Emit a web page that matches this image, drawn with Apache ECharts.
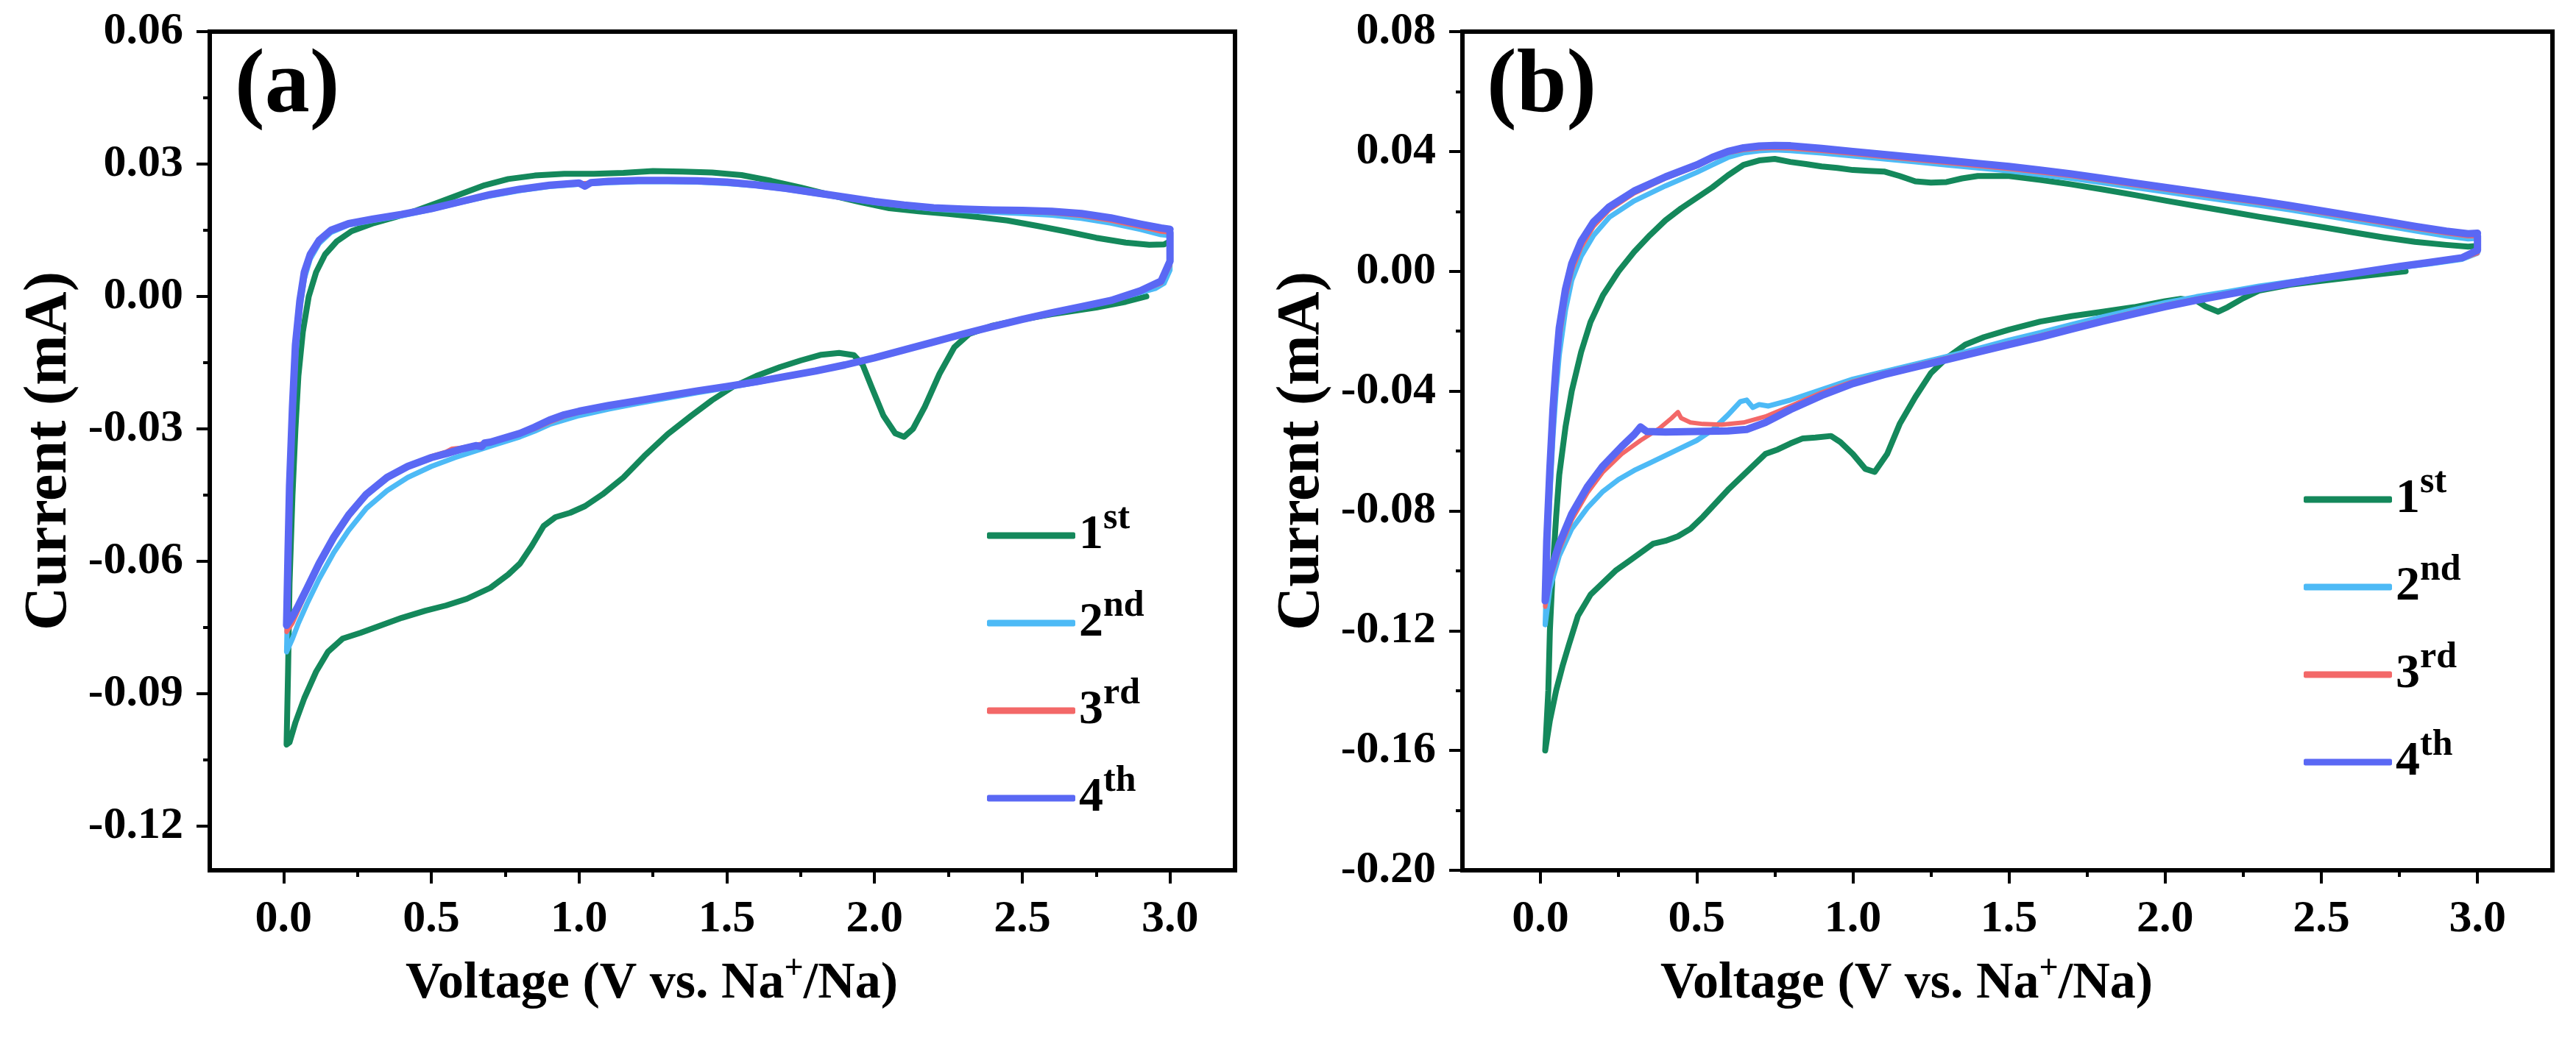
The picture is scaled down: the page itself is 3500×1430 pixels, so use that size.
<!DOCTYPE html>
<html>
<head>
<meta charset="utf-8">
<title>CV curves</title>
<script src="https://cdn.jsdelivr.net/npm/echarts@6.0.0/dist/echarts.min.js"></script>
<style>
  html, body { margin: 0; padding: 0; background: #fff; }
  #chart { width: 3500px; height: 1430px; }
</style>
</head>
<body>
<div id="chart"></div>
<script>
// ---- data: [voltage (V), current (mA)] ----
const cycleNames = ["1st", "2nd", "3rd", "4th"];
const cycleColors = ["#14885b", "#4dbaf6", "#f36868", "#5a68f4"];
const cycleWidths = [8, 7, 6, 10];

const xTicks = [0, 0.5, 1.0, 1.5, 2.0, 2.5, 3.0];
const xMinorTicks = [0.25, 0.75, 1.25, 1.75, 2.25, 2.75];
const aYTicks = [0.06, 0.03, 0, -0.03, -0.06, -0.09, -0.12];
const aYMinorTicks = [0.045, 0.015, -0.015, -0.045, -0.075, -0.105];
const bYTicks = [0.08, 0.04, 0, -0.04, -0.08, -0.12, -0.16, -0.2];
const bYMinorTicks = [0.06, 0.02, -0.02, -0.06, -0.1, -0.14, -0.18];

const aCycle1 = [
  [2.92, 0.000], [2.85, -0.0012], [2.75, -0.0025], [2.6, -0.0040], [2.5, -0.0052], [2.4, -0.0066],
  [2.32, -0.0085], [2.27, -0.0115], [2.22, -0.0175], [2.17, -0.0250], [2.13, -0.0300], [2.10, -0.0318],
  [2.07, -0.0310], [2.03, -0.0270], [1.99, -0.0205], [1.96, -0.0155], [1.93, -0.0133], [1.88, -0.0128],
  [1.82, -0.0132], [1.75, -0.0145], [1.68, -0.0160], [1.6, -0.0180], [1.52, -0.0205], [1.45, -0.0235],
  [1.38, -0.0270], [1.3, -0.0312], [1.22, -0.0362], [1.15, -0.0410], [1.08, -0.0448], [1.02, -0.0475],
  [0.97, -0.0490], [0.92, -0.0500], [0.88, -0.0520], [0.84, -0.0565], [0.80, -0.0605], [0.76, -0.0630],
  [0.70, -0.0660], [0.62, -0.0685], [0.55, -0.0700], [0.48, -0.0712], [0.40, -0.0728], [0.33, -0.0745],
  [0.26, -0.0762], [0.2, -0.0775], [0.15, -0.0805], [0.11, -0.0850], [0.07, -0.0910], [0.04, -0.0965],
  [0.02, -0.1010], [0.01, -0.1015],
  [0.015, -0.085], [0.02, -0.065], [0.03, -0.045], [0.04, -0.030], [0.05, -0.018], [0.065, -0.008],
  [0.085, 0.000], [0.11, 0.0055], [0.14, 0.0095], [0.18, 0.0125], [0.23, 0.0148], [0.3, 0.0165],
  [0.38, 0.0180], [0.45, 0.0195], [0.52, 0.0212], [0.6, 0.0232], [0.68, 0.0252], [0.76, 0.0266],
  [0.85, 0.0274], [0.95, 0.0278], [1.05, 0.0278], [1.15, 0.0280], [1.25, 0.0284], [1.35, 0.0283],
  [1.45, 0.0281], [1.55, 0.0275], [1.65, 0.0262], [1.75, 0.0247], [1.85, 0.0230], [1.95, 0.0214],
  [2.05, 0.0200], [2.15, 0.0193], [2.25, 0.0187], [2.35, 0.0180], [2.45, 0.0172], [2.55, 0.0160],
  [2.65, 0.0147], [2.75, 0.0133], [2.85, 0.0122], [2.93, 0.0117], [2.98, 0.0118], [3.0, 0.0125]
];
const aCycle2 = [
  [3.0, 0.0125], [3.0, 0.006], [2.98, 0.003], [2.95, 0.0018], [2.88, 0.0005], [2.8, -0.0010],
  [2.7, -0.0025], [2.6, -0.0038], [2.5, -0.0052], [2.4, -0.0068], [2.3, -0.0085], [2.2, -0.0103],
  [2.1, -0.0120], [2.0, -0.0138], [1.9, -0.0155], [1.8, -0.0170], [1.7, -0.0182], [1.6, -0.0195],
  [1.5, -0.0207], [1.4, -0.0218], [1.3, -0.0230], [1.2, -0.0242], [1.1, -0.0255], [1.0, -0.0270],
  [0.95, -0.0280], [0.9, -0.0290], [0.85, -0.0305], [0.8, -0.0318], [0.72, -0.0335], [0.65, -0.0350],
  [0.58, -0.0365], [0.5, -0.0385], [0.42, -0.0410], [0.35, -0.0440], [0.28, -0.0480], [0.22, -0.0530],
  [0.17, -0.0580], [0.12, -0.0640], [0.08, -0.0695], [0.05, -0.0740], [0.03, -0.0775], [0.01, -0.0805],
  [0.015, -0.065], [0.02, -0.048], [0.03, -0.028], [0.04, -0.014], [0.055, -0.003], [0.07, 0.004],
  [0.09, 0.0085], [0.12, 0.0120], [0.16, 0.0145], [0.22, 0.0162], [0.3, 0.0172], [0.4, 0.0183],
  [0.5, 0.0197], [0.6, 0.0213], [0.7, 0.0228], [0.8, 0.0240], [0.9, 0.0249], [1.0, 0.0254],
  [1.1, 0.0258], [1.2, 0.0260], [1.3, 0.0260], [1.4, 0.0259], [1.5, 0.0256], [1.6, 0.0251],
  [1.7, 0.0243], [1.8, 0.0233], [1.9, 0.0223], [2.0, 0.0213], [2.1, 0.0205], [2.2, 0.0198],
  [2.3, 0.0194], [2.4, 0.0191], [2.5, 0.0188], [2.6, 0.0184], [2.7, 0.0177], [2.8, 0.0166],
  [2.9, 0.0152], [2.97, 0.0140], [3.0, 0.0138]
];
const aCycle3 = [
  [3.0, 0.0138], [3.0, 0.007], [2.97, 0.003], [2.9, 0.0012], [2.8, -0.0010], [2.7, -0.0024],
  [2.6, -0.0038], [2.5, -0.0053], [2.4, -0.0069], [2.3, -0.0086], [2.2, -0.0104], [2.1, -0.0122],
  [2.0, -0.0140], [1.9, -0.0156], [1.8, -0.0170], [1.7, -0.0182], [1.6, -0.0194], [1.5, -0.0205],
  [1.4, -0.0216], [1.3, -0.0227], [1.2, -0.0238], [1.1, -0.0250], [1.0, -0.0263], [0.95, -0.0272],
  [0.9, -0.0285], [0.85, -0.0300], [0.8, -0.0312], [0.75, -0.0322], [0.7, -0.0330], [0.65, -0.0336],
  [0.6, -0.0343], [0.57, -0.0345], [0.55, -0.0352], [0.5, -0.0362], [0.42, -0.0385], [0.35, -0.0412],
  [0.28, -0.0450], [0.22, -0.0500], [0.17, -0.0550], [0.12, -0.0610], [0.08, -0.0665], [0.05, -0.0710],
  [0.03, -0.0740], [0.01, -0.0760],
  [0.015, -0.060], [0.02, -0.045], [0.03, -0.027], [0.04, -0.013], [0.055, -0.002], [0.07, 0.005],
  [0.09, 0.009], [0.12, 0.0123], [0.16, 0.0148], [0.22, 0.0164], [0.3, 0.0174], [0.4, 0.0185],
  [0.5, 0.0198], [0.6, 0.0214], [0.7, 0.0230], [0.8, 0.0242], [0.9, 0.0251], [1.0, 0.0256],
  [1.1, 0.0260], [1.2, 0.0262], [1.3, 0.0262], [1.4, 0.0261], [1.5, 0.0258], [1.6, 0.0252],
  [1.7, 0.0244], [1.8, 0.0234], [1.9, 0.0224], [2.0, 0.0214], [2.1, 0.0206], [2.2, 0.0200],
  [2.3, 0.0196], [2.4, 0.0194], [2.5, 0.0192], [2.6, 0.0189], [2.7, 0.0183], [2.8, 0.0172],
  [2.9, 0.0158], [2.97, 0.0147], [3.0, 0.0145]
];
const aCycle4 = [
  [3.0, 0.0145], [3.0, 0.008], [2.97, 0.0035], [2.9, 0.0013], [2.8, -0.0009], [2.7, -0.0023],
  [2.6, -0.0037], [2.5, -0.0052], [2.4, -0.0068], [2.3, -0.0085], [2.2, -0.0103], [2.1, -0.0121],
  [2.0, -0.0139], [1.9, -0.0155], [1.8, -0.0169], [1.7, -0.0181], [1.6, -0.0193], [1.5, -0.0204],
  [1.4, -0.0214], [1.3, -0.0225], [1.2, -0.0236], [1.1, -0.0247], [1.0, -0.0260], [0.95, -0.0268],
  [0.9, -0.0280], [0.85, -0.0296], [0.8, -0.0310], [0.75, -0.0320], [0.7, -0.0330], [0.68, -0.0332],
  [0.67, -0.0340], [0.65, -0.0338], [0.6, -0.0346], [0.55, -0.0356], [0.5, -0.0365], [0.42, -0.0385],
  [0.35, -0.0410], [0.28, -0.0448], [0.22, -0.0495], [0.17, -0.0545], [0.12, -0.0605], [0.08, -0.0660],
  [0.05, -0.0700], [0.03, -0.0725], [0.01, -0.0745],
  [0.015, -0.058], [0.02, -0.043], [0.03, -0.025], [0.04, -0.011], [0.055, -0.001], [0.07, 0.0055],
  [0.09, 0.0095], [0.12, 0.0127], [0.16, 0.0150], [0.22, 0.0165], [0.3, 0.0175], [0.4, 0.0186],
  [0.5, 0.0199], [0.6, 0.0215], [0.7, 0.0231], [0.8, 0.0243], [0.9, 0.0252], [1.0, 0.0257],
  [1.02, 0.0250], [1.04, 0.0258], [1.1, 0.0261], [1.2, 0.0263], [1.3, 0.0263], [1.4, 0.0262],
  [1.5, 0.0259], [1.6, 0.0253], [1.7, 0.0245], [1.8, 0.0235], [1.9, 0.0225], [2.0, 0.0215],
  [2.1, 0.0207], [2.2, 0.0201], [2.3, 0.0198], [2.4, 0.0196], [2.5, 0.0195], [2.6, 0.0193],
  [2.7, 0.0188], [2.8, 0.0178], [2.9, 0.0164], [2.97, 0.0155], [3.0, 0.0152]
];

const bCycle1 = [
  [2.77, 0.000], [2.7, -0.0008], [2.6, -0.0020], [2.5, -0.0032], [2.4, -0.0045], [2.3, -0.0065],
  [2.25, -0.0090], [2.2, -0.0120], [2.17, -0.0135], [2.13, -0.0118], [2.1, -0.0098], [2.05, -0.0092],
  [2.0, -0.0100], [1.9, -0.0120], [1.8, -0.0135], [1.7, -0.0150], [1.6, -0.0168], [1.5, -0.0195],
  [1.42, -0.0220], [1.36, -0.0245], [1.3, -0.0290], [1.25, -0.0340], [1.2, -0.0420], [1.15, -0.0510],
  [1.11, -0.0610], [1.07, -0.0670], [1.04, -0.0660], [1.0, -0.0610], [0.96, -0.0570], [0.93, -0.0550],
  [0.88, -0.0555], [0.84, -0.0558], [0.8, -0.0575], [0.76, -0.0595], [0.72, -0.0610], [0.68, -0.0650],
  [0.64, -0.0690], [0.6, -0.0730], [0.56, -0.0775], [0.52, -0.0820], [0.48, -0.0860], [0.44, -0.0885],
  [0.4, -0.0900], [0.36, -0.0910], [0.32, -0.0940], [0.28, -0.0970], [0.24, -0.1000], [0.2, -0.1040],
  [0.16, -0.1080], [0.12, -0.1150], [0.09, -0.1250], [0.07, -0.1320], [0.05, -0.1400], [0.03, -0.1500],
  [0.015, -0.1600],
  [0.025, -0.140], [0.03, -0.120], [0.04, -0.098], [0.05, -0.082], [0.06, -0.068], [0.08, -0.052],
  [0.1, -0.040], [0.13, -0.027], [0.16, -0.017], [0.2, -0.008], [0.25, 0.000], [0.3, 0.0065],
  [0.35, 0.0120], [0.4, 0.0170], [0.45, 0.0210], [0.5, 0.0245], [0.55, 0.0280], [0.6, 0.0320],
  [0.65, 0.0355], [0.7, 0.0370], [0.75, 0.0375], [0.8, 0.0365], [0.85, 0.0358], [0.9, 0.0350],
  [0.95, 0.0345], [1.0, 0.0338], [1.05, 0.0335], [1.1, 0.0333], [1.15, 0.0318], [1.2, 0.0300],
  [1.25, 0.0296], [1.3, 0.0298], [1.35, 0.0310], [1.4, 0.0318], [1.5, 0.0318], [1.6, 0.0305],
  [1.7, 0.0290], [1.8, 0.0273], [1.9, 0.0255], [2.0, 0.0236], [2.1, 0.0218], [2.2, 0.0200],
  [2.3, 0.0182], [2.4, 0.0165], [2.5, 0.0148], [2.6, 0.0130], [2.7, 0.0113], [2.8, 0.0098],
  [2.9, 0.0088], [2.97, 0.0082], [3.0, 0.0085]
];
const bCycle2 = [
  [3.0, 0.010], [3.0, 0.006], [2.95, 0.004], [2.85, 0.0025], [2.75, 0.0012], [2.6, -0.0008],
  [2.5, -0.0020], [2.4, -0.0035], [2.3, -0.0050], [2.2, -0.0068], [2.1, -0.0085], [2.0, -0.0105],
  [1.9, -0.0128], [1.8, -0.0152], [1.7, -0.0178], [1.6, -0.0205], [1.5, -0.0230], [1.4, -0.0258],
  [1.3, -0.0285], [1.2, -0.0310], [1.1, -0.0335], [1.0, -0.0360], [0.9, -0.0395], [0.8, -0.0430],
  [0.73, -0.0450], [0.7, -0.0445], [0.68, -0.0455], [0.66, -0.0430], [0.64, -0.0435], [0.6, -0.0480],
  [0.55, -0.0530], [0.5, -0.0565], [0.45, -0.0590], [0.4, -0.0615], [0.35, -0.0640], [0.3, -0.0665],
  [0.25, -0.0695], [0.2, -0.0735], [0.15, -0.0790], [0.1, -0.0860], [0.06, -0.0950], [0.03, -0.1060],
  [0.015, -0.1180],
  [0.02, -0.100], [0.03, -0.075], [0.04, -0.055], [0.05, -0.040], [0.06, -0.028], [0.08, -0.013],
  [0.1, -0.003], [0.13, 0.005], [0.17, 0.012], [0.22, 0.018], [0.3, 0.0235], [0.4, 0.0285],
  [0.5, 0.0330], [0.55, 0.0355], [0.6, 0.0380], [0.65, 0.0395], [0.7, 0.0402], [0.75, 0.0405],
  [0.8, 0.0403], [0.9, 0.0395], [1.0, 0.0385], [1.1, 0.0375], [1.2, 0.0365], [1.3, 0.0355],
  [1.4, 0.0345], [1.5, 0.0335], [1.6, 0.0322], [1.7, 0.0310], [1.8, 0.0295], [1.9, 0.0280],
  [2.0, 0.0265], [2.1, 0.0250], [2.2, 0.0235], [2.3, 0.0220], [2.4, 0.0205], [2.5, 0.0188],
  [2.6, 0.0170], [2.7, 0.0153], [2.8, 0.0135], [2.9, 0.0118], [2.97, 0.0108], [3.0, 0.0110]
];
const bCycle3 = [
  [3.0, 0.0110], [3.0, 0.006], [2.95, 0.0042], [2.85, 0.0028], [2.75, 0.0014], [2.6, -0.0008],
  [2.5, -0.0022], [2.4, -0.0038], [2.3, -0.0055], [2.2, -0.0073], [2.1, -0.0092], [2.0, -0.0113],
  [1.9, -0.0137], [1.8, -0.0162], [1.7, -0.0188], [1.6, -0.0215], [1.5, -0.0240], [1.4, -0.0265],
  [1.3, -0.0290], [1.2, -0.0315], [1.1, -0.0340], [1.0, -0.0368], [0.9, -0.0405], [0.8, -0.0450],
  [0.72, -0.0485], [0.65, -0.0505], [0.58, -0.0512], [0.52, -0.0510], [0.48, -0.0505], [0.45, -0.0490],
  [0.44, -0.0470], [0.42, -0.0490], [0.38, -0.0525], [0.32, -0.0565], [0.26, -0.0610], [0.2, -0.0670],
  [0.15, -0.0740], [0.1, -0.0830], [0.06, -0.0930], [0.03, -0.1030], [0.015, -0.1120],
  [0.02, -0.095], [0.03, -0.070], [0.04, -0.050], [0.05, -0.035], [0.06, -0.023], [0.08, -0.009],
  [0.1, 0.000], [0.13, 0.008], [0.17, 0.0150], [0.22, 0.0205], [0.3, 0.0260], [0.4, 0.0310],
  [0.5, 0.0350], [0.55, 0.0375], [0.6, 0.0395], [0.65, 0.0405], [0.7, 0.0410], [0.75, 0.0412],
  [0.8, 0.0410], [0.9, 0.0402], [1.0, 0.0392], [1.1, 0.0382], [1.2, 0.0372], [1.3, 0.0362],
  [1.4, 0.0352], [1.5, 0.0342], [1.6, 0.0330], [1.7, 0.0318], [1.8, 0.0303], [1.9, 0.0288],
  [2.0, 0.0273], [2.1, 0.0258], [2.2, 0.0243], [2.3, 0.0228], [2.4, 0.0212], [2.5, 0.0195],
  [2.6, 0.0178], [2.7, 0.0161], [2.8, 0.0143], [2.9, 0.0127], [2.97, 0.0117], [3.0, 0.0118]
];
const bCycle4 = [
  [3.0, 0.0118], [3.0, 0.007], [2.95, 0.0045], [2.85, 0.0030], [2.75, 0.0016], [2.6, -0.0008],
  [2.5, -0.0023], [2.4, -0.0040], [2.3, -0.0058], [2.2, -0.0077], [2.1, -0.0097], [2.0, -0.0118],
  [1.9, -0.0142], [1.8, -0.0167], [1.7, -0.0193], [1.6, -0.0220], [1.5, -0.0245], [1.4, -0.0270],
  [1.3, -0.0295], [1.2, -0.0320], [1.1, -0.0345], [1.0, -0.0375], [0.9, -0.0415], [0.8, -0.0462],
  [0.72, -0.0505], [0.66, -0.0528], [0.6, -0.0533], [0.5, -0.0535], [0.4, -0.0537], [0.34, -0.0535],
  [0.32, -0.0520], [0.3, -0.0545], [0.26, -0.0585], [0.2, -0.0650], [0.15, -0.0720], [0.1, -0.0810],
  [0.06, -0.0910], [0.03, -0.1010], [0.015, -0.1100],
  [0.02, -0.090], [0.03, -0.066], [0.04, -0.046], [0.05, -0.031], [0.06, -0.019], [0.08, -0.006],
  [0.1, 0.0025], [0.13, 0.0100], [0.17, 0.0165], [0.22, 0.0215], [0.3, 0.0268], [0.4, 0.0315],
  [0.5, 0.0355], [0.55, 0.0380], [0.6, 0.0400], [0.65, 0.0412], [0.7, 0.0418], [0.75, 0.0420],
  [0.8, 0.0419], [0.9, 0.0410], [1.0, 0.0400], [1.1, 0.0390], [1.2, 0.0380], [1.3, 0.0370],
  [1.4, 0.0360], [1.5, 0.0350], [1.6, 0.0338], [1.7, 0.0325], [1.8, 0.0310], [1.9, 0.0295],
  [2.0, 0.0280], [2.1, 0.0265], [2.2, 0.0250], [2.3, 0.0235], [2.4, 0.0219], [2.5, 0.0202],
  [2.6, 0.0185], [2.7, 0.0168], [2.8, 0.0150], [2.9, 0.0134], [2.97, 0.0125], [3.0, 0.0127]
];

const panelA = [aCycle1, aCycle2, aCycle3, aCycle4];
const panelB = [bCycle1, bCycle2, bCycle3, bCycle4];

// ---- chart ----
const FONT = "'Liberation Serif', 'Times New Roman', serif";

function majorAxis(gridIndex, min, max, ticks, digits, extra) {
  return Object.assign({
    type: "value",
    gridIndex: gridIndex,
    min: min,
    max: max,
    axisLine: { show: true, onZero: false, lineStyle: { color: "#000", width: 6 } },
    axisTick: { show: true, inside: false, length: 18, customValues: ticks, lineStyle: { color: "#000", width: 4 } },
    axisLabel: {
      customValues: ticks,
      fontFamily: FONT, fontWeight: "bold", fontSize: 62, color: "#000", margin: 36,
      formatter: (v) => Number(v).toFixed(digits),
    },
    splitLine: { show: false },
  }, extra);
}

function minorAxis(gridIndex, min, max, ticks, position) {
  return {
    type: "value",
    gridIndex: gridIndex,
    min: min,
    max: max,
    position: position,
    axisLine: { show: false, onZero: false },
    axisLabel: { show: false },
    splitLine: { show: false },
    axisTick: { show: true, inside: false, length: 9, customValues: ticks, lineStyle: { color: "#000", width: 4 } },
  };
}

const nameStyle = {
  fontFamily: FONT, fontWeight: "bold", fontSize: 70, color: "#000",
};

function xName(shift) {
  return {
    name: "Voltage (V vs. Na{sup|+}/Na)",
    nameLocation: "middle",
    nameGap: 112,
    nameTextStyle: Object.assign({}, nameStyle, {
      padding: [0, shift, 0, 0],
      rich: { sup: { fontFamily: FONT, fontWeight: "bold", fontSize: 46, color: "#000", padding: [0, 0, 40, 0] } },
    }),
  };
}

function yName() {
  return {
    name: "Current (mA)",
    nameLocation: "middle",
    nameGap: 176,
    nameTextStyle: Object.assign({}, nameStyle, { fontSize: 82 }),
  };
}

function cycleSeries(data, i, axisIndex) {
  return {
    type: "line",
    name: cycleNames[i],
    data: data,
    xAxisIndex: axisIndex,
    yAxisIndex: axisIndex,
    symbol: "none",
    showSymbol: false,
    color: cycleColors[i],
    lineStyle: { color: cycleColors[i], width: cycleWidths[i], cap: "round", join: "round" },
    z: 2 + i,
  };
}

function legendAt(left, top) {
  return {
    left: left,
    top: top,
    orient: "vertical",
    data: cycleNames,
    icon: "roundRect",
    itemWidth: 120,
    itemHeight: 9,
    itemGap: 38,
    selectedMode: false,
    formatter: (name) => "{n|" + name.charAt(0) + "}{s|" + name.slice(1) + "}",
    textStyle: {
      rich: {
        n: { fontFamily: FONT, fontWeight: "bold", fontSize: 66, color: "#000", lineHeight: 84 },
        s: { fontFamily: FONT, fontWeight: "bold", fontSize: 50, color: "#000", padding: [0, 0, 46, 0] },
      },
    },
  };
}

const chart = echarts.init(document.getElementById("chart"));

chart.setOption({
  backgroundColor: "#fff",
  animation: false,
  grid: [
    { left: 285, top: 43, width: 1393, height: 1140, show: true, borderColor: "#000", borderWidth: 6, backgroundColor: "#fff", outerBoundsMode: "none" },
    { left: 1987, top: 43, width: 1481, height: 1140, show: true, borderColor: "#000", borderWidth: 6, backgroundColor: "#fff", outerBoundsMode: "none" },
  ],
  xAxis: [
    majorAxis(0, -0.25, 3.22, xTicks, 1, xName(192)),
    minorAxis(0, -0.25, 3.22, xMinorTicks, "bottom"),
    majorAxis(1, -0.25, 3.24, xTicks, 1, xName(274)),
    minorAxis(1, -0.25, 3.24, xMinorTicks, "bottom"),
  ],
  yAxis: [
    majorAxis(0, -0.13, 0.06, aYTicks, 2, yName()),
    minorAxis(0, -0.13, 0.06, aYMinorTicks, "left"),
    majorAxis(1, -0.2, 0.08, bYTicks, 2, yName()),
    minorAxis(1, -0.2, 0.08, bYMinorTicks, "left"),
  ],
  legend: [legendAt(1336, 675), legendAt(3125, 626)],
  graphic: [
    { type: "text", left: 319, top: 58, style: { text: "(a)", fontFamily: FONT, fontWeight: "bold", fontSize: 122, fill: "#000" } },
    { type: "text", left: 2020, top: 58, style: { text: "(b)", fontFamily: FONT, fontWeight: "bold", fontSize: 122, fill: "#000" } },
  ],
  series: panelA.map((d, i) => cycleSeries(d, i, 0))
    .concat(panelB.map((d, i) => cycleSeries(d, i, 2))),
});
</script>
</body>
</html>
